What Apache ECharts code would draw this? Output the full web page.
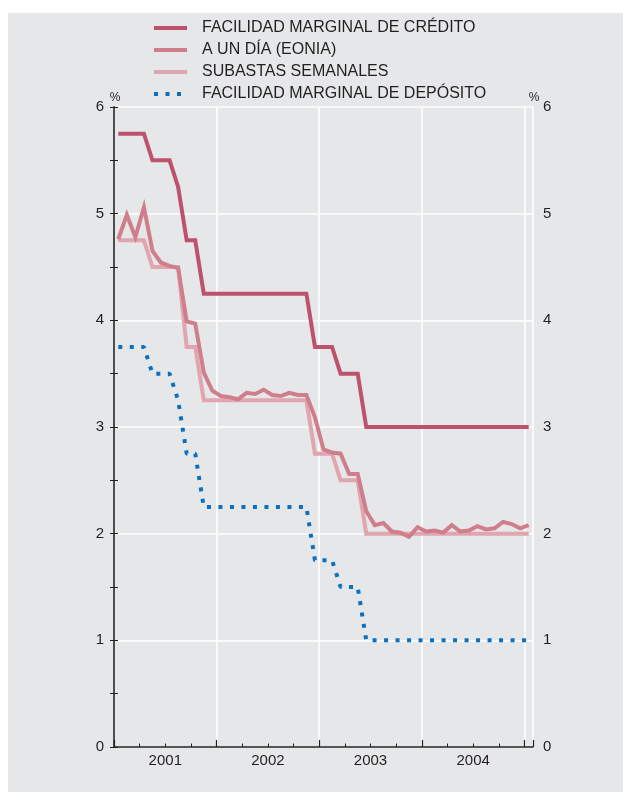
<!DOCTYPE html>
<html>
<head>
<meta charset="utf-8">
<script src="https://cdn.jsdelivr.net/npm/echarts@6/dist/echarts.min.js"></script>
<style>
  html, body { margin: 0; padding: 0; background: #ffffff; }
  #panel { position: absolute; left: 8px; top: 13px; width: 615px; height: 779px; background: #e6e7e9; }
  #chart { position: absolute; left: 0; top: 0; width: 631px; height: 799px; }
</style>
</head>
<body>
<div id="panel"></div>
<div id="chart"></div>
<script>
// Months (Jan 2001 – Jan 2005)
var months = [
  '2001-01','2001-02','2001-03','2001-04','2001-05','2001-06','2001-07','2001-08','2001-09','2001-10','2001-11','2001-12',
  '2002-01','2002-02','2002-03','2002-04','2002-05','2002-06','2002-07','2002-08','2002-09','2002-10','2002-11','2002-12',
  '2003-01','2003-02','2003-03','2003-04','2003-05','2003-06','2003-07','2003-08','2003-09','2003-10','2003-11','2003-12',
  '2004-01','2004-02','2004-03','2004-04','2004-05','2004-06','2004-07','2004-08','2004-09','2004-10','2004-11','2004-12',
  '2005-01'
];
var yearLabels = ['2001', '2002', '2003', '2004'];

var seriesNames = ['FACILIDAD MARGINAL DE CRÉDITO', 'A UN DÍA (EONIA)', 'SUBASTAS SEMANALES', 'FACILIDAD MARGINAL DE DEPÓSITO'];

var credito = [
  5.75,5.75,5.75,5.75,5.50,5.50,5.50,5.25,4.75,4.75,4.25,4.25,
  4.25,4.25,4.25,4.25,4.25,4.25,4.25,4.25,4.25,4.25,4.25,3.75,
  3.75,3.75,3.50,3.50,3.50,3.00,3.00,3.00,3.00,3.00,3.00,3.00,
  3.00,3.00,3.00,3.00,3.00,3.00,3.00,3.00,3.00,3.00,3.00,3.00,
  3.00
];
var eonia = [
  4.76,4.99,4.78,5.06,4.65,4.54,4.51,4.49,3.99,3.97,3.51,3.34,
  3.29,3.28,3.26,3.32,3.31,3.35,3.30,3.29,3.32,3.30,3.30,3.09,
  2.79,2.76,2.75,2.56,2.56,2.21,2.08,2.10,2.02,2.01,1.97,2.06,
  2.02,2.03,2.01,2.08,2.02,2.03,2.07,2.04,2.05,2.11,2.09,2.05,
  2.08
];
var subastas = [
  4.75,4.75,4.75,4.75,4.50,4.50,4.50,4.50,3.75,3.75,3.25,3.25,
  3.25,3.25,3.25,3.25,3.25,3.25,3.25,3.25,3.25,3.25,3.25,2.75,
  2.75,2.75,2.50,2.50,2.50,2.00,2.00,2.00,2.00,2.00,2.00,2.00,
  2.00,2.00,2.00,2.00,2.00,2.00,2.00,2.00,2.00,2.00,2.00,2.00,
  2.00
];
var deposito = [
  3.75,3.75,3.75,3.75,3.50,3.50,3.50,3.25,2.75,2.75,2.25,2.25,
  2.25,2.25,2.25,2.25,2.25,2.25,2.25,2.25,2.25,2.25,2.25,1.75,
  1.75,1.75,1.50,1.50,1.50,1.00,1.00,1.00,1.00,1.00,1.00,1.00,
  1.00,1.00,1.00,1.00,1.00,1.00,1.00,1.00,1.00,1.00,1.00,1.00,
  1.00
];

var textColor = '#231f20';
var font = 'Liberation Sans, Arial, sans-serif';
var nMonths = months.length;
var yMax = 6;

var chart = echarts.init(document.getElementById('chart'), null, { renderer: 'canvas' });

function yAxisCfg(pos) {
  return {
    type: 'value', position: pos, min: 0, max: yMax, interval: 1,
    axisLine: { show: true, lineStyle: { color: pos === 'left' ? '#231f20' : '#4a4a4a', width: 1.5 } },
    axisTick: { show: true, inside: true, length: 4, lineStyle: { color: '#231f20', width: 1 } },
    minorTick: { show: true, splitNumber: 2, length: 4, lineStyle: { color: '#231f20', width: 1 } },
    axisLabel: { show: true, fontSize: 15, color: textColor, fontFamily: font, margin: 10 },
    splitLine: { show: pos === 'left', lineStyle: { color: '#ffffff', width: 1.5 } }
  };
}

var option = {
  backgroundColor: 'transparent',
  animation: false,
  grid: { left: 114, right: 98, top: 107, bottom: 52, containLabel: false },
  legend: {
    orient: 'vertical', left: 152, top: 20, padding: 0,
    itemWidth: 33, itemHeight: 14, itemGap: 6,
    lineStyle: { width: 4 },
    itemStyle: { color: 'rgba(0,0,0,0)', borderWidth: 0, opacity: 0 },
    textStyle: { fontSize: 16, color: textColor, fontFamily: font, padding: [0, 0, 0, 10] },
    data: seriesNames
  },
  xAxis: [
    { // years: long ticks + white grid
      type: 'value', position: 'bottom', min: 0, max: nMonths, interval: 12,
      axisLine: { show: true, lineStyle: { color: '#231f20', width: 1.5 } },
      axisTick: { show: true, inside: true, length: 7, lineStyle: { color: '#231f20', width: 1.2 } },
      axisLabel: { show: false },
      splitLine: { show: true, lineStyle: { color: '#ffffff', width: 1.5 } }
    },
    { // quarters: short ticks
      type: 'value', position: 'bottom', min: 0, max: nMonths, interval: 3,
      axisLine: { show: false },
      axisTick: { show: true, inside: true, length: 3.5, lineStyle: { color: '#231f20', width: 1 } },
      axisLabel: { show: false },
      splitLine: { show: false }
    },
    { // year labels at mid-year
      type: 'value', position: 'bottom', min: 0, max: nMonths, interval: 6,
      axisLine: { show: false }, axisTick: { show: false }, splitLine: { show: false },
      axisLabel: {
        show: true, fontSize: 15, color: textColor, fontFamily: font, margin: 6,
        showMinLabel: true, showMaxLabel: true,
        formatter: function (v) {
          if (v % 12 === 6) { return yearLabels[(v - 6) / 12] || ''; }
          return '';
        }
      }
    },
    { // data axis
      type: 'category', position: 'bottom', data: months, boundaryGap: true, show: false
    }
  ],
  yAxis: [ yAxisCfg('left'), yAxisCfg('right') ],
  series: [
    { name: seriesNames[0], type: 'line', xAxisIndex: 3, yAxisIndex: 0, data: credito,
      symbol: 'none', z: 5, color: '#bd526e',
      lineStyle: { color: '#bd526e', width: 4, join: 'miter' } },
    { name: seriesNames[1], type: 'line', xAxisIndex: 3, yAxisIndex: 0, data: eonia,
      symbol: 'none', z: 4, color: '#cf7e8c',
      lineStyle: { color: '#cf7e8c', width: 4, join: 'miter' } },
    { name: seriesNames[2], type: 'line', xAxisIndex: 3, yAxisIndex: 0, data: subastas,
      symbol: 'none', z: 3, color: '#e0a5ae',
      lineStyle: { color: '#e0a5ae', width: 4, join: 'miter' } },
    { name: seriesNames[3], type: 'line', xAxisIndex: 3, yAxisIndex: 0, data: deposito,
      symbol: 'none', z: 6, color: '#0a70bf',
      lineStyle: { color: '#0a70bf', width: 4, type: [4, 7.5], cap: 'butt' } }
  ]
};
chart.setOption(option);

// unit labels above both value axes, placed from the axes' own scales
var lx = chart.convertToPixel({ xAxisIndex: 0 }, 0);
var rx = chart.convertToPixel({ xAxisIndex: 0 }, nMonths);
var ty = chart.convertToPixel({ yAxisIndex: 0 }, yMax);
function unitLabel(x) {
  return {
    type: 'text', x: x + 1, y: ty - 3,
    style: { text: '%', fill: textColor, font: '12px ' + font, align: 'center', verticalAlign: 'bottom' }
  };
}
chart.setOption({ graphic: [unitLabel(lx), unitLabel(rx)] });
</script>
</body>
</html>
